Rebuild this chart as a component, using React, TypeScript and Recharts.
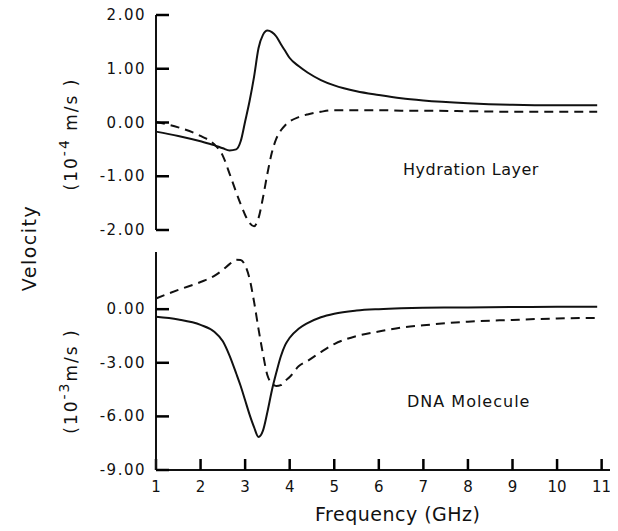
import React from "react"
import { Line, LineChart, XAxis, YAxis } from "recharts"

// frequency samples (GHz), shared by both panels
const freq = [1, 1.5, 2, 2.3, 2.5, 2.65, 2.8, 2.9, 3.0, 3.1, 3.2, 3.3, 3.4, 3.5, 3.6, 3.7, 3.8, 3.9, 4.0, 4.2, 4.4, 4.7, 5.0, 5.5, 6, 6.5, 7, 8, 9, 10, 10.9]

// hydration layer, 10^-4 m/s
const hydrationSolid = [-0.17, -0.25, -0.35, -0.42, -0.48, -0.52, -0.5, -0.35, 0.02, 0.4, 0.85, 1.38, 1.63, 1.71, 1.68, 1.6, 1.46, 1.33, 1.2, 1.05, 0.93, 0.79, 0.69, 0.58, 0.51, 0.45, 0.41, 0.36, 0.33, 0.32, 0.32]
const hydrationDashed = [0.01, -0.09, -0.25, -0.4, -0.62, -0.95, -1.3, -1.52, -1.72, -1.87, -1.93, -1.78, -1.4, -0.95, -0.56, -0.3, -0.15, -0.05, 0.02, 0.1, 0.15, 0.2, 0.23, 0.23, 0.23, 0.22, 0.22, 0.21, 0.2, 0.2, 0.2]

// DNA molecule, 10^-3 m/s
const dnaSolid = [-0.43, -0.58, -0.88, -1.25, -1.8, -2.6, -3.6, -4.3, -5.1, -5.9, -6.6, -7.15, -6.8, -5.75, -4.55, -3.55, -2.65, -2.0, -1.6, -1.1, -0.78, -0.45, -0.25, -0.08, 0.0, 0.05, 0.08, 0.1, 0.12, 0.13, 0.13]
const dnaDashed = [0.6, 1.08, 1.52, 1.85, 2.2, 2.52, 2.76, 2.75, 2.45, 1.7, 0.42, -1.1, -2.5, -3.7, -4.15, -4.3, -4.25, -4.0, -3.8, -3.2, -2.9, -2.4, -1.95, -1.5, -1.25, -1.03, -0.9, -0.7, -0.6, -0.52, -0.49]

const hydrationTicks = [2, 1, 0, -1, -2]
const dnaTicks = [0, -3, -6, -9]
const freqTicks = [1, 2, 3, 4, 5, 6, 7, 8, 9, 10, 11]

const hydrationData = freq.map((f, i) => ({ f, solid: hydrationSolid[i], dashed: hydrationDashed[i] }))
const dnaData = freq.map((f, i) => ({ f, solid: dnaSolid[i], dashed: dnaDashed[i] }))

const INK = "#111"
const FONT = "'DejaVu Sans', sans-serif"

function YTickLabel(props: any) {
  return (
    <text x={props.x} y={props.y} dy={5} textAnchor="end" fill={INK} fontFamily={FONT} fontSize={15} letterSpacing={1.5}>
      {Number(props.payload.value).toFixed(2)}
    </text>
  )
}

function XTickLabel(props: any) {
  return (
    <text x={props.x} y={props.y} dy={12} textAnchor="middle" fill={INK} fontFamily={FONT} fontSize={15}>
      {props.payload.value}
    </text>
  )
}

const axisLine = { stroke: INK, strokeWidth: 2 }
const tickLine = { stroke: "#000", strokeWidth: 2.5 }

function Caption({ left, top, width, children }: any) {
  return (
    <svg width={width} height={30} style={{ position: "absolute", left, top }} fontFamily={FONT} fill={INK}>
      {children}
    </svg>
  )
}

export default function App() {
  return (
    <div style={{ position: "relative", width: 618, height: 531, margin: "-8px 0 0 -8px", background: "#fff" }}>
      <div style={{ position: "absolute", left: 0, top: 0 }}>
        <LineChart width={618} height={245} data={hydrationData} margin={{ top: 15, right: 3, bottom: 15, left: 0 }}>
          <XAxis dataKey="f" type="number" domain={[1, 11.3]} hide />
          {/* negative tickSize turns the tick marks inward, like the original */}
          <YAxis
            width={156}
            domain={[-2, 2]}
            ticks={hydrationTicks}
            interval={0}
            tick={(p: any) => <YTickLabel {...p} />}
            tickLine={tickLine}
            tickSize={-13}
            tickMargin={23}
            axisLine={axisLine}
          />
          <Line type="monotone" dataKey="solid" stroke={INK} strokeWidth={2} dot={false} isAnimationActive={false} />
          <Line type="monotone" dataKey="dashed" stroke={INK} strokeWidth={2} strokeDasharray="9 6" dot={false} isAnimationActive={false} />
        </LineChart>
      </div>
      <div style={{ position: "absolute", left: 0, top: 245 }}>
        <LineChart width={618} height={286} data={dnaData} margin={{ top: 7, right: 3, bottom: 21, left: 0 }}>
          <XAxis
            dataKey="f"
            type="number"
            domain={[1, 11.3]}
            ticks={freqTicks}
            interval={0}
            tick={(p: any) => <XTickLabel {...p} />}
            tickLine={tickLine}
            tickSize={-11}
            tickMargin={21}
            height={40}
            axisLine={axisLine}
          />
          <YAxis
            width={156}
            domain={[-9, 3.2]}
            ticks={dnaTicks}
            interval={0}
            tick={(p: any) => <YTickLabel {...p} />}
            tickLine={tickLine}
            tickSize={-13}
            tickMargin={23}
            axisLine={axisLine}
          />
          <Line type="monotone" dataKey="solid" stroke={INK} strokeWidth={2} dot={false} isAnimationActive={false} />
          <Line type="monotone" dataKey="dashed" stroke={INK} strokeWidth={2} strokeDasharray="9 6" dot={false} isAnimationActive={false} />
        </LineChart>
      </div>
      <svg width={100} height={531} style={{ position: "absolute", left: 0, top: 0 }} fontFamily={FONT} fill={INK}>
        <text x={36} y={248} transform="rotate(-90 36 248)" textAnchor="middle" fontSize={19} letterSpacing={1.5}>
          Velocity
        </text>
        <text x={77} y={134} transform="rotate(-90 77 134)" textAnchor="middle" fontSize={17} letterSpacing={2}>
          (10<tspan dy={-8} fontSize={14}>-4</tspan>
          <tspan dy={8}> m/s )</tspan>
        </text>
        <text x={77} y={381} transform="rotate(-90 77 381)" textAnchor="middle" fontSize={17} letterSpacing={2}>
          (10<tspan dy={-8} fontSize={14}>-3</tspan>
          <tspan dy={8}>m/s )</tspan>
        </text>
      </svg>
      <Caption left={403} top={155} width={180}>
        <text x={0} y={20} fontSize={16} letterSpacing={0.5}>Hydration Layer</text>
      </Caption>
      <Caption left={407} top={387} width={160}>
        <text x={0} y={20} fontSize={16} letterSpacing={1}>DNA Molecule</text>
      </Caption>
      <Caption left={315} top={500} width={220}>
        <text x={0} y={21} fontSize={19} letterSpacing={0.5}>Frequency (GHz)</text>
      </Caption>
    </div>
  )
}
